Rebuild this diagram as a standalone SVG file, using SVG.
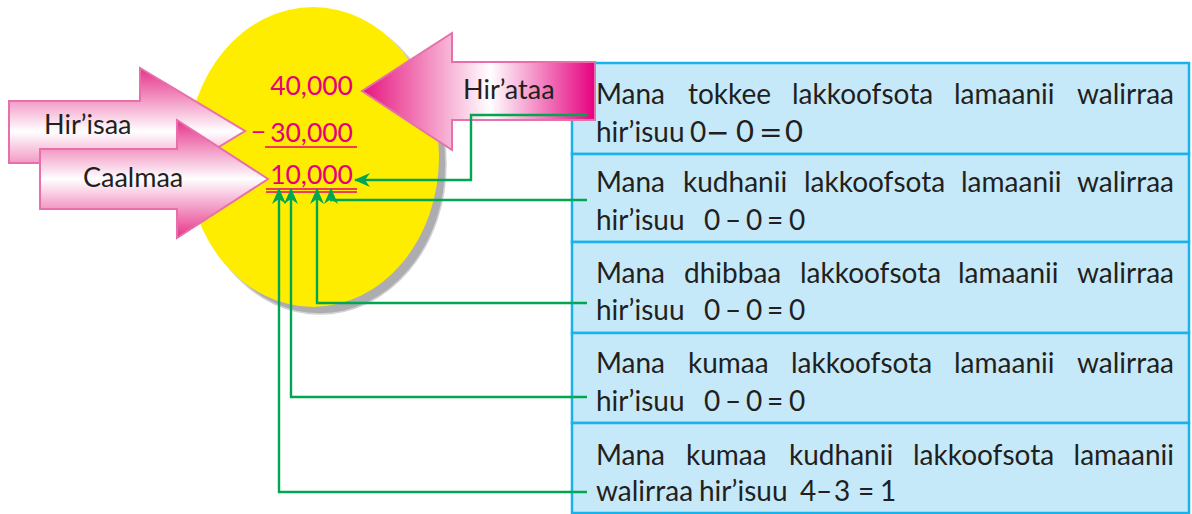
<svg xmlns="http://www.w3.org/2000/svg" width="1192" height="514" viewBox="0 0 1192 514">
<defs>
<style>
.t{font-family:Lato,"Liberation Sans",sans-serif;font-size:28px;fill:#231f20}
.l{font-family:Lato,"Liberation Sans",sans-serif;font-size:27px;fill:#231f20}
.n{font-family:Lato,"Liberation Sans",sans-serif;font-size:26.5px;fill:#e5007e;text-anchor:end}
.e{text-anchor:end}
.m{font-size:31px}
.s{font-family:"DejaVu Sans",sans-serif;font-size:28px}
.cell{fill:#c6e9f9;stroke:#1ab2ea;stroke-width:2.5}
.arr{stroke:#e770aa;stroke-width:2}
.con{fill:none;stroke:#00a651;stroke-width:2.4;marker-end:url(#ah)}
.ul{stroke:#e5007e;stroke-width:1.6}
</style>
<linearGradient id="gv" x1="0" y1="0" x2="0" y2="1">
<stop offset="0" stop-color="#e6338a"/>
<stop offset="0.5" stop-color="#ffffff"/>
<stop offset="1" stop-color="#e6338a"/>
</linearGradient>
<linearGradient id="gh" x1="0" y1="0" x2="1" y2="0">
<stop offset="0" stop-color="#e6157f"/>
<stop offset="0.55" stop-color="#ffffff"/>
<stop offset="1" stop-color="#e6007e"/>
</linearGradient>
<marker id="ah" viewBox="0 0 16 14" refX="15" refY="7" markerWidth="16" markerHeight="14" markerUnits="userSpaceOnUse" orient="auto">
<path d="M0,0 L16,7 L0,14 L5,7 Z" fill="#00a651"/>
</marker>
</defs>

<g id="disc">
<ellipse cx="320" cy="164" rx="126" ry="150" fill="#adadb1" stroke="#d2d2d6" stroke-width="1.5"/>
<ellipse cx="313" cy="157" rx="126" ry="150" fill="#ffed00"/>
</g>

<g id="table">
<rect class="cell" x="572" y="63" width="617" height="91"/>
<rect class="cell" x="572" y="154" width="617" height="88"/>
<rect class="cell" x="572" y="242" width="617" height="91"/>
<rect class="cell" x="572" y="333" width="617" height="90"/>
<rect class="cell" x="572" y="423" width="617" height="90"/>
</g>

<g id="row1">
<text class="t" y="104"><tspan x="596">Mana</tspan><tspan x="688">tokkee</tspan><tspan x="792">lakkoofsota</tspan><tspan x="954">lamaanii</tspan></text>
<text class="t e" x="1174" y="104">walirraa</text>
<text class="t" y="142"><tspan x="596">hir’isuu</tspan><tspan x="690">0</tspan><tspan class="s" x="706">−</tspan><tspan class="m" x="736">0</tspan><tspan class="s" x="759">=</tspan><tspan class="m" x="785">0</tspan></text>
</g>
<g id="row2">
<text class="t" y="192"><tspan x="596">Mana</tspan><tspan x="683">kudhanii</tspan><tspan x="804">lakkoofsota</tspan><tspan x="961">lamaanii</tspan></text>
<text class="t e" x="1174" y="192">walirraa</text>
<text class="t" y="230"><tspan x="596">hir’isuu</tspan><tspan x="704">0</tspan><tspan x="725">–</tspan><tspan x="746">0</tspan><tspan x="767">=</tspan><tspan x="789">0</tspan></text>
</g>
<g id="row3">
<text class="t" y="283"><tspan x="596">Mana</tspan><tspan x="684">dhibbaa</tspan><tspan x="800">lakkoofsota</tspan><tspan x="958">lamaanii</tspan></text>
<text class="t e" x="1174" y="283">walirraa</text>
<text class="t" y="320"><tspan x="596">hir’isuu</tspan><tspan x="704">0</tspan><tspan x="725">–</tspan><tspan x="746">0</tspan><tspan x="767">=</tspan><tspan x="789">0</tspan></text>
</g>
<g id="row4">
<text class="t" y="373"><tspan x="596">Mana</tspan><tspan x="688">kumaa</tspan><tspan x="791">lakkoofsota</tspan><tspan x="954">lamaanii</tspan></text>
<text class="t e" x="1174" y="373">walirraa</text>
<text class="t" y="411"><tspan x="596">hir’isuu</tspan><tspan x="704">0</tspan><tspan x="725">–</tspan><tspan x="746">0</tspan><tspan x="767">=</tspan><tspan x="789">0</tspan></text>
</g>
<g id="row5">
<text class="t" y="465"><tspan x="596">Mana</tspan><tspan x="686">kumaa</tspan><tspan x="789">kudhanii</tspan><tspan x="913">lakkoofsota</tspan></text>
<text class="t e" x="1174" y="465">lamaanii</text>
<text class="t" y="501"><tspan x="596">walirraa</tspan><tspan x="699">hir’isuu</tspan><tspan x="800">4</tspan><tspan x="816">–</tspan><tspan x="834">3</tspan><tspan x="858">=</tspan><tspan x="880">1</tspan></text>
</g>

<g id="hirisaa">
<path class="arr" d="M9,101 H140 V68 L245,131 L140,195 V163 H9 Z" fill="url(#gv)"/>
<text class="l" x="44" y="134">Hir’isaa</text>
</g>
<g id="caalmaa">
<path class="arr" d="M40,149 H177 V120 L268,179 L177,238 V209 H40 Z" fill="url(#gv)"/>
<text class="l" x="83" y="187">Caalmaa</text>
</g>
<g id="hirataa">
<path class="arr" d="M595,62 H452 V33 L362,91 L452,150 V120 H595 Z" fill="url(#gh)"/>
<text class="l" x="463" y="99">Hir’ataa</text>
</g>

<g id="sum">
<text class="n" x="353" y="95">40,000</text>
<text class="n" x="266" y="141">−</text>
<text class="n" x="353" y="142">30,000</text>
<line class="ul" x1="265" y1="147" x2="357" y2="147"/>
<text class="n" x="353" y="184">10,000</text>
<line class="ul" x1="266" y1="189" x2="357" y2="189"/>
<line class="ul" x1="266" y1="192" x2="357" y2="192"/>
</g>

<g id="connectors">
<path class="con" d="M587,115 H471 V180 H355"/>
<path class="con" d="M587,200 H331 V189"/>
<path class="con" d="M587,303 H317 V189"/>
<path class="con" d="M587,397 H291 V189"/>
<path class="con" d="M587,492 H279 V189"/>
</g>
</svg>
